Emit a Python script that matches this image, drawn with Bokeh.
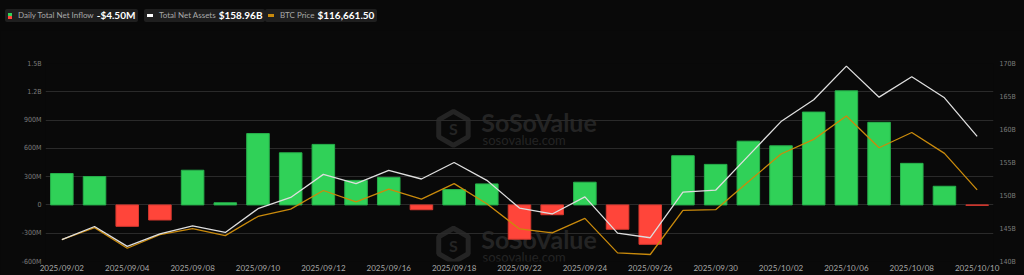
from bokeh.plotting import figure
from bokeh.models import Range1d, LinearAxis, FixedTicker, Div, Label, ColumnDataSource
from bokeh.layouts import column
from bokeh.embed import file_html
from bokeh.resources import INLINE

# ---------------- data ----------------
dates = ["2025/09/02", "2025/09/03", "2025/09/04", "2025/09/05", "2025/09/08",
         "2025/09/09", "2025/09/10", "2025/09/11", "2025/09/12", "2025/09/15",
         "2025/09/16", "2025/09/17", "2025/09/18", "2025/09/19", "2025/09/22",
         "2025/09/23", "2025/09/24", "2025/09/25", "2025/09/26", "2025/09/29",
         "2025/09/30", "2025/10/01", "2025/10/02", "2025/10/03", "2025/10/06",
         "2025/10/07", "2025/10/08", "2025/10/09", "2025/10/10"]
# daily total net inflow, $M
net_inflow_m = [333, 301, -227, -160, 368, 23, 757, 553, 642, 260,
                292, -51, 163, 223, -363, -104, 241, -258, -418, 522,
                430, 676, 627, 985, 1210, 876, 441, 198, -4.5]
# total net assets, $B
total_assets_b = [143.3, 145.3, 142.3, 144.2, 145.4, 144.4, 148.0, 149.7, 153.2, 151.8,
                  153.8, 152.5, 155.0, 152.3, 148.1, 147.2, 149.8, 144.3, 143.6, 150.5,
                  150.8, 156.0, 161.2, 164.5, 169.6, 164.9, 168.0, 164.8, 158.96]
# BTC price, $
btc_price = [111250, 112550, 110310, 111790, 112440, 111680, 113770, 114570, 116590, 115360,
             116740, 115660, 117340, 115150, 112410, 111980, 113560, 109810, 109630, 114420,
             114500, 117530, 120560, 122150, 124700, 121240, 122900, 120630, 116661.50]

left_ticks = [-600, -300, 0, 300, 600, 900, 1200, 1500]
left_tick_labels = ["-600M", "-300M", "0", "300M", "600M", "900M", "1.2B", "1.5B"]
right_ticks = [140, 145, 150, 155, 160, 165, 170]
right_tick_labels = ["140B", "145B", "150B", "155B", "160B", "165B", "170B"]
x_tick_idx = list(range(0, len(dates), 2))

# ---------------- styles ----------------
BG = "#090909"
GREEN = "#30d158"
RED = "#ff453a"
WHITE_LINE = "#dedede"
ORANGE = "#c98a0c"
WM = "#242424"

idx = list(range(len(dates)))
src = ColumnDataSource(dict(
    x=idx,
    top=net_inflow_m,
    fill=[GREEN if v >= 0 else RED for v in net_inflow_m],
    line=["#27b04b" if v >= 0 else "#d8392f" for v in net_inflow_m],
    assets=total_assets_b,
    btc=btc_price,
))

p = figure(width=1024, height=245, output_backend="svg", toolbar_location=None,
           x_range=Range1d(-0.5, len(dates) - 0.5), y_range=Range1d(-600, 1500),
           min_border_left=45, min_border_right=31, min_border_top=33, min_border_bottom=12,
           background_fill_color=BG, border_fill_color=BG, outline_line_color=None)
p.extra_y_ranges = {"assets": Range1d(140, 170), "btc": Range1d(108870, 130400)}

# watermarks (decoration)
for yoff, big in ((0, True), (-1240, False)):
    p.scatter(x=[11.98], y=[812 + yoff], marker="hex", size=34, angle=0.5236,
              fill_color=None, line_color=WM, line_width=5, level="image")
    p.add_layout(Label(x=11.98, y=812 + yoff, text="S", text_color=WM, text_font="Lato",
                       text_font_style="bold", text_font_size="16px", text_align="center",
                       text_baseline="middle", level="image"))
    p.add_layout(Label(x=12.83, y=875 + yoff, text="SoSoValue", text_color=WM, text_font="Lato",
                       text_font_style="bold", text_font_size="25px", text_align="left",
                       text_baseline="middle", level="image"))
    p.add_layout(Label(x=12.87, y=690 + yoff, text="sosovalue.com", text_color=WM, text_font="Lato",
                       text_font_size="13px", text_align="left",
                       text_baseline="middle", level="image"))

p.vbar(x="x", top="top", bottom=0, width=0.69, source=src,
       fill_color="fill", line_color="line", line_width=1)
p.line(x="x", y="btc", source=src, y_range_name="btc", line_color=ORANGE, line_width=1.3)
p.line(x="x", y="assets", source=src, y_range_name="assets", line_color=WHITE_LINE, line_width=1.3)

# axes
p.xgrid.visible = False
p.ygrid.grid_line_color = "#2a2a2a"
p.ygrid.grid_line_width = 1

def plain(ax):
    ax.axis_line_color = None
    ax.major_tick_line_color = None
    ax.minor_tick_line_color = None
    ax.major_tick_out = 0
    ax.major_tick_in = 0
    ax.minor_tick_out = 0
    ax.minor_tick_in = 0

xa = p.xaxis[0]
xa.ticker = FixedTicker(ticks=x_tick_idx)
xa.major_label_overrides = {i: dates[i] for i in x_tick_idx}
plain(xa)
xa.major_label_standoff = 1
xa.major_label_text_font = "Lato"
xa.major_label_text_font_size = "8px"
xa.major_label_text_color = "#a8a8a8"

ya = p.yaxis[0]
ya.ticker = FixedTicker(ticks=left_ticks)
ya.major_label_overrides = dict(zip(left_ticks, left_tick_labels))
plain(ya)
ya.major_label_standoff = 4
ya.major_label_text_font = "DejaVu Sans Condensed"
ya.major_label_text_font_size = "7px"
ya.major_label_text_color = "#7c7c7c"

ra = LinearAxis(y_range_name="assets", ticker=FixedTicker(ticks=right_ticks))
ra.major_label_overrides = dict(zip(right_ticks, right_tick_labels))
plain(ra)
ra.major_label_standoff = 6
ra.major_label_text_font = "DejaVu Sans Condensed"
ra.major_label_text_font_size = "7px"
ra.major_label_text_color = "#7c7c7c"
p.add_layout(ra, "right")

# ---------------- legend header ----------------
inflow_txt = ("-" if net_inflow_m[-1] < 0 else "") + "${:,.2f}M".format(abs(net_inflow_m[-1]))
assets_txt = "${:,.2f}B".format(total_assets_b[-1])
btc_txt = "${:,.2f}".format(btc_price[-1])

def box(left, icon_css, label, val):
    return (
        f'<div style="position:absolute;left:{left}px;top:9px;height:13px;background:#1f1f1f;'
        f'border-radius:2px;display:flex;align-items:center;padding:0 3px 0 3px;white-space:nowrap;">'
        f'<span style="display:inline-block;{icon_css}margin-right:6px;"></span>'
        f'<span style="color:#a9a9a9;font-size:8px;margin-right:3px;">{label}</span>'
        f'<span style="color:#ffffff;font-size:10px;font-weight:bold;">{val}</span></div>'
    )

html = (
    f'<div style="position:relative;width:1024px;height:30px;background:{BG};font-family:Lato;">'
    + box(5, f"width:4px;height:6px;background:linear-gradient({GREEN} 50%,{RED} 50%);", "Daily Total Net Inflow", inflow_txt)
    + box(144, "width:6px;height:3px;background:#ffffff;", "Total Net Assets", assets_txt)
    + box(265, f"width:6px;height:3px;background:{ORANGE};", "BTC Price", btc_txt)
    + '</div>'
)
header = Div(text=html, width=1024, height=30, margin=(0, 0, 0, 0),
             styles={"background-color": BG})

layout = column(header, p, spacing=0, margin=(0, 0, 0, 0), styles={"background-color": BG})

open("out.html", "w").write(file_html(layout, INLINE))
